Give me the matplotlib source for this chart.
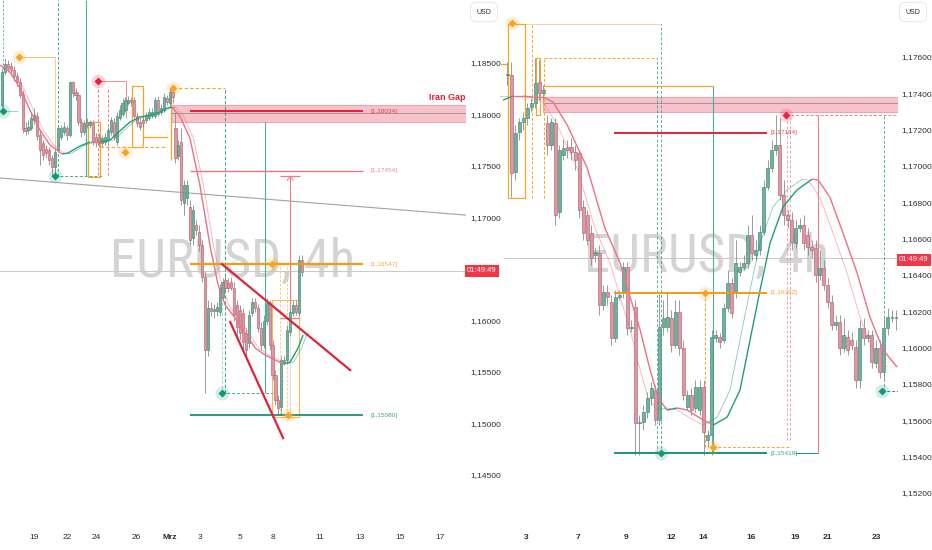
import matplotlib.pyplot as plt
from matplotlib.patches import Rectangle
from matplotlib.collections import LineCollection

plt.rcParams['font.family'] = ['Liberation Sans', 'DejaVu Sans']

# ---------------- left chart: EURUSD 4h (Feb -> early March) ----------------
left_open = [1.1809, 1.1841, 1.1849, 1.1847, 1.1843, 1.1837, 1.1832, 1.1820, 1.1787, 1.1785,
             1.1787, 1.1795, 1.1799, 1.1780, 1.1772, 1.1767, 1.1766, 1.1758, 1.1749, 1.1766,
             1.1778, 1.1783, 1.1787, 1.1780, 1.1832, 1.1822, 1.1819, 1.1793, 1.1783, 1.1793,
             1.1790, 1.1792, 1.1778, 1.1778, 1.1772, 1.1773, 1.1775, 1.1783, 1.1793, 1.1773,
             1.1797, 1.1801, 1.1804, 1.1811, 1.1814, 1.1814, 1.1799, 1.1793, 1.1795, 1.1795,
             1.1797, 1.1799, 1.1799, 1.1814, 1.1802, 1.1804, 1.1816, 1.1811, 1.1822, 1.1787,
             1.1760, 1.1773, 1.1714, 1.1719, 1.1710, 1.1680, 1.1693, 1.1686, 1.1673, 1.1642,
             1.1571, 1.1612, 1.1609, 1.1609, 1.1608, 1.1623, 1.1639, 1.1636, 1.1637, 1.1632,
             1.1615, 1.1610, 1.1607, 1.1588, 1.1578, 1.1607, 1.1618, 1.1612, 1.1593, 1.1576,
             1.1600, 1.1617, 1.1576, 1.1547, 1.1523, 1.1516, 1.1560, 1.1562, 1.1589, 1.1607,
             1.1615, 1.1607, 1.1659]
left_close = [1.1841, 1.1849, 1.1845, 1.1843, 1.1837, 1.1832, 1.1819, 1.1786, 1.1784, 1.1788,
              1.1797, 1.1800, 1.1779, 1.1766, 1.1761, 1.1763, 1.1756, 1.1749, 1.1764, 1.1787,
              1.1787, 1.1788, 1.1780, 1.1832, 1.1821, 1.1819, 1.1793, 1.1783, 1.1792, 1.1790,
              1.1793, 1.1773, 1.1773, 1.1772, 1.1777, 1.1778, 1.1785, 1.1795, 1.1778, 1.1799,
              1.1804, 1.1811, 1.1814, 1.1814, 1.1812, 1.1799, 1.1792, 1.1788, 1.1792, 1.1799,
              1.1802, 1.1802, 1.1814, 1.1801, 1.1806, 1.1817, 1.1812, 1.1822, 1.1817, 1.1758,
              1.1770, 1.1717, 1.1732, 1.1732, 1.1678, 1.1707, 1.1688, 1.1673, 1.1642, 1.1571,
              1.1612, 1.1609, 1.1611, 1.1613, 1.1632, 1.1637, 1.1632, 1.1632, 1.1632, 1.1605,
              1.1594, 1.1588, 1.1579, 1.1571, 1.1605, 1.1618, 1.1612, 1.1593, 1.1576, 1.1600,
              1.1617, 1.1576, 1.1547, 1.1523, 1.1515, 1.1562, 1.1562, 1.1591, 1.1608, 1.1615,
              1.1608, 1.1659, 1.1647]
left_high = [1.1845, 1.1855, 1.1853, 1.1851, 1.1847, 1.1841, 1.1835, 1.1824, 1.1793, 1.1795,
             1.1802, 1.1806, 1.1802, 1.1785, 1.1775, 1.1770, 1.1768, 1.1761, 1.1767, 1.1790,
             1.1790, 1.1793, 1.1790, 1.1833, 1.1833, 1.1826, 1.1822, 1.1797, 1.1795, 1.1797,
             1.1795, 1.1795, 1.1782, 1.1782, 1.1780, 1.1782, 1.1788, 1.1798, 1.1797, 1.1802,
             1.1809, 1.1816, 1.1817, 1.1818, 1.1817, 1.1817, 1.1802, 1.1797, 1.1798, 1.1802,
             1.1806, 1.1806, 1.1817, 1.1818, 1.1810, 1.1821, 1.1819, 1.1826, 1.1826, 1.1802,
             1.1775, 1.1787, 1.1736, 1.1736, 1.1717, 1.1712, 1.1698, 1.1693, 1.1678, 1.1647,
             1.1620, 1.1618, 1.1616, 1.1618, 1.1635, 1.1641, 1.1643, 1.1641, 1.1642, 1.1637,
             1.1620, 1.1615, 1.1612, 1.1593, 1.1610, 1.1622, 1.1622, 1.1616, 1.1599, 1.1605,
             1.1622, 1.1620, 1.1581, 1.1552, 1.1528, 1.1566, 1.1566, 1.1596, 1.1612, 1.1620,
             1.1620, 1.1664, 1.1664]
left_low = [1.1806, 1.1838, 1.1841, 1.1838, 1.1833, 1.1828, 1.1816, 1.1782, 1.1780, 1.1781,
            1.1785, 1.1791, 1.1775, 1.1751, 1.1756, 1.1758, 1.1751, 1.1740, 1.1740, 1.1764,
            1.1775, 1.1780, 1.1775, 1.1778, 1.1817, 1.1814, 1.1790, 1.1778, 1.1780, 1.1787,
            1.1787, 1.1770, 1.1768, 1.1768, 1.1768, 1.1770, 1.1772, 1.1780, 1.1775, 1.1770,
            1.1795, 1.1799, 1.1802, 1.1809, 1.1808, 1.1797, 1.1788, 1.1785, 1.1788, 1.1792,
            1.1795, 1.1797, 1.1797, 1.1799, 1.1800, 1.1802, 1.1809, 1.1808, 1.1811, 1.1753,
            1.1756, 1.1712, 1.1702, 1.1712, 1.1673, 1.1673, 1.1683, 1.1668, 1.1637, 1.1530,
            1.1566, 1.1604, 1.1602, 1.1604, 1.1604, 1.1620, 1.1628, 1.1628, 1.1630, 1.1600,
            1.1586, 1.1581, 1.1571, 1.1566, 1.1573, 1.1604, 1.1608, 1.1589, 1.1571, 1.1573,
            1.1596, 1.1571, 1.1542, 1.1518, 1.1508, 1.1508, 1.1557, 1.1559, 1.1585, 1.1604,
            1.1605, 1.1604, 1.1643]

left_ma_x = [-0.7, 2.7, 6.1, 9.5, 12.9, 16.3, 18.7, 20.4, 22.4, 26.5, 29.9, 33.3, 36.7, 40.1,
             43.5, 46.9, 50.3, 53.7, 56.1, 57.8, 60.5, 63.9, 67.3, 70.7, 73.5, 75.9, 79.3, 82.7,
             86.1, 89.5, 92.9, 95.6, 98.0, 100.7, 102.4]
left_ma_y = [1.18481, 1.18413, 1.18257, 1.18044, 1.17850, 1.17704, 1.17655, 1.17617, 1.17626,
             1.17694, 1.17733, 1.17733, 1.17752, 1.17840, 1.17927, 1.17976, 1.17995, 1.18024,
             1.18063, 1.18073, 1.17985, 1.17772, 1.17316, 1.16733, 1.16345, 1.16150, 1.16024,
             1.15879, 1.15733, 1.15665, 1.15617, 1.15578, 1.15597, 1.15733, 1.15859]

left_levels = [1.18034, 1.17454, 1.16547, 1.15080]
left_level_colors = ['#e8213b', '#f27485', '#f39c12', '#13967a']
left_level_widths = [1.5, 1.0, 1.6, 1.3]
left_gap = [1.17927, 1.18092]
left_last = 1.16481

left_date_pos = [10.9, 22.1, 32.0, 45.6, 57.1, 67.3, 81.0, 92.2, 108.2, 121.8, 135.4, 149.0]
left_date_labels = ['19', '22', '24', '26', 'Mrz', '3', '5', '8', '11', '13', '15', '17']
# 1,16500 sits under the countdown tag, so it is not listed
left_price_ticks = [1.145, 1.150, 1.155, 1.160, 1.170, 1.175, 1.180, 1.185]

# ---------------- right chart: EURUSD (March) ----------------
right_open = [1.17501, 1.17501, 1.16967, 1.17187, 1.17242, 1.17264, 1.17325, 1.17347, 1.17462, 1.17402,
              1.17237, 1.17116, 1.17237, 1.16747, 1.17061, 1.17105, 1.17105, 1.17077, 1.17072, 1.16774,
              1.16730, 1.16631, 1.16510, 1.16521, 1.16235, 1.16306, 1.16251, 1.16053, 1.16279, 1.16301,
              1.16444, 1.16108, 1.16224, 1.15585, 1.15591, 1.15646, 1.15723, 1.15767, 1.15602, 1.16114,
              1.16114, 1.16163, 1.16015, 1.16196, 1.15998, 1.15673, 1.15739, 1.15668, 1.15657, 1.15783,
              1.15492, 1.15519, 1.16053, 1.16059, 1.16042, 1.16218, 1.16356, 1.16301, 1.16416, 1.16444,
              1.16466, 1.16620, 1.16510, 1.16538, 1.16637, 1.16884, 1.16989, 1.17088, 1.17116, 1.16840,
              1.16730, 1.16703, 1.16576, 1.16659, 1.16675, 1.16620, 1.16554, 1.16549, 1.16400, 1.16438,
              1.16345, 1.16251, 1.16125, 1.16141, 1.15998, 1.16059, 1.16042, 1.16004, 1.15822, 1.16108,
              1.16053, 1.16070, 1.15915, 1.15998, 1.15866, 1.16108, 1.16163, 1.16163]
right_close = [1.17506, 1.16961, 1.17182, 1.17242, 1.17264, 1.17319, 1.17347, 1.17457, 1.17402, 1.17418,
               1.17116, 1.17242, 1.16730, 1.17088, 1.17099, 1.17088, 1.17077, 1.17033, 1.16758, 1.16631,
               1.16593, 1.16494, 1.16527, 1.16235, 1.16306, 1.16279, 1.16053, 1.16279, 1.16290, 1.16444,
               1.16108, 1.16114, 1.15585, 1.15591, 1.15646, 1.15723, 1.15778, 1.15602, 1.16114, 1.16163,
               1.16169, 1.16015, 1.16196, 1.15998, 1.15739, 1.15739, 1.15657, 1.15783, 1.15783, 1.15536,
               1.15519, 1.16059, 1.16070, 1.16031, 1.16218, 1.16356, 1.16191, 1.16466, 1.16444, 1.16466,
               1.16620, 1.16521, 1.16538, 1.16637, 1.16884, 1.16989, 1.17088, 1.17116, 1.16840, 1.16730,
               1.16703, 1.16582, 1.16659, 1.16675, 1.16576, 1.16554, 1.16538, 1.16400, 1.16438, 1.16345,
               1.16251, 1.16125, 1.16141, 1.15998, 1.16070, 1.15987, 1.16015, 1.15822, 1.16108, 1.16053,
               1.16070, 1.15921, 1.15998, 1.15866, 1.16108, 1.16169, 1.16169, 1.16163]
right_high = [1.17572, 1.17572, 1.17226, 1.17264, 1.17297, 1.17347, 1.17374, 1.17594, 1.17583, 1.17446,
              1.17281, 1.17264, 1.17264, 1.17116, 1.17143, 1.17143, 1.17154, 1.17116, 1.17088, 1.16813,
              1.16758, 1.16675, 1.16549, 1.16565, 1.16345, 1.16345, 1.16290, 1.16317, 1.16317, 1.16471,
              1.16471, 1.16152, 1.16262, 1.15629, 1.15684, 1.15756, 1.15811, 1.15794, 1.16301, 1.16262,
              1.16301, 1.16207, 1.16262, 1.16262, 1.16042, 1.15767, 1.15778, 1.15822, 1.15822, 1.15822,
              1.15547, 1.16097, 1.16097, 1.16081, 1.16246, 1.16427, 1.16383, 1.16593, 1.16471, 1.16510,
              1.16675, 1.16730, 1.16593, 1.16675, 1.16923, 1.17033, 1.17143, 1.17281, 1.17264, 1.16923,
              1.16758, 1.16747, 1.16703, 1.16714, 1.16730, 1.16659, 1.16593, 1.16593, 1.16538, 1.16483,
              1.16383, 1.16290, 1.16180, 1.16180, 1.16163, 1.16097, 1.16086, 1.16042, 1.16152, 1.16163,
              1.16097, 1.16097, 1.16042, 1.16042, 1.16163, 1.16218, 1.16207, 1.16207]
right_low = [1.17446, 1.16829, 1.16923, 1.17143, 1.17198, 1.17226, 1.17297, 1.17319, 1.17363, 1.17363,
             1.17061, 1.17088, 1.16675, 1.16714, 1.17033, 1.17044, 1.17033, 1.16978, 1.16714, 1.16593,
             1.16565, 1.16455, 1.16471, 1.16180, 1.16207, 1.16235, 1.16015, 1.16031, 1.16262, 1.16273,
             1.16070, 1.16086, 1.15409, 1.15409, 1.15547, 1.15613, 1.15684, 1.15574, 1.15574, 1.16070,
             1.16086, 1.15976, 1.15998, 1.15960, 1.15712, 1.15657, 1.15629, 1.15646, 1.15629, 1.15409,
             1.15453, 1.15409, 1.16031, 1.15998, 1.16026, 1.16196, 1.16163, 1.16273, 1.16394, 1.16427,
             1.16438, 1.16483, 1.16483, 1.16510, 1.16620, 1.16868, 1.16967, 1.17061, 1.16813, 1.16675,
             1.16659, 1.16538, 1.16549, 1.16637, 1.16538, 1.16510, 1.16494, 1.16361, 1.16372, 1.16317,
             1.16218, 1.16097, 1.16097, 1.15960, 1.15976, 1.15960, 1.15987, 1.15778, 1.15778, 1.16015,
             1.16031, 1.15888, 1.15888, 1.15833, 1.15822, 1.16070, 1.16141, 1.16097]

right_ma_x = [-1.0, 1.5, 4.0, 6.5, 9.0, 11.5, 15.0, 20.0, 24.4, 28.2, 30.7, 33.2, 35.7, 37.7, 39.9,
              42.4, 44.9, 48.1, 51.4, 54.9, 58.1, 60.6, 63.1, 65.6, 68.8, 72.3, 76.1, 77.6, 80.5,
              83.8, 87.3, 90.5, 93.8, 97.3]
right_ma_y = [1.17363, 1.17385, 1.17385, 1.17380, 1.17380, 1.17352, 1.17226, 1.16989, 1.16659,
              1.16466, 1.16279, 1.16097, 1.15877, 1.15723, 1.15657, 1.15668, 1.15657, 1.15613,
              1.15574, 1.15618, 1.15767, 1.16042, 1.16317, 1.16576, 1.16774, 1.16868, 1.16928,
              1.16923, 1.16829, 1.16631, 1.16411, 1.16169, 1.15987, 1.15893]

right_levels = [1.17184, 1.16302, 1.15419]
right_level_colors = ['#e8213b', '#f39c12', '#13967a']
right_gap = [1.17297, 1.17380]
right_last = 1.16494

right_date_pos = [4.7, 17.7, 29.7, 40.9, 48.9, 60.8, 71.8, 79.8, 92.0]
right_date_labels = ['3', '7', '9', '12', '14', '16', '19', '21', '23']
right_price_ticks = [1.152, 1.154, 1.156, 1.158, 1.160, 1.162, 1.164, 1.166, 1.168, 1.170,
                     1.172, 1.174, 1.176]

# colours
UP, UP_EDGE = '#72b09d', '#3b8b74'
DN, DN_EDGE = '#da9aa3', '#b95f6c'
WICK = '#8a8a8a'
MA_UP, MA_DN = '#1f9e7c', '#ee6f86'
ORANGE, RED, TEAL, PINK = '#f5a623', '#e8213b', '#13967a', '#f07c8c'
TEXT = '#2a2e39'
WATERMARK = ['Roboto Condensed', 'Liberation Sans Narrow', 'DejaVu Sans']


def price_fmt(v):
    return f'{v:.5f}'.replace('.', ',')


def draw_candles(ax, o, c, h, l, w):
    for i in range(len(o)):
        up = c[i] >= o[i]
        ax.vlines(i, l[i], h[i], color=WICK, lw=0.6, zorder=3)
        body = max(abs(c[i] - o[i]), 0.00004)
        ax.add_patch(Rectangle((i - w / 2, min(o[i], c[i])), w, body,
                               fc=UP if up else DN, ec=UP_EDGE if up else DN_EDGE,
                               lw=0.45, zorder=4))


def draw_ma(ax, xs, ys, shift):
    # solid line plus a thinner companion, coloured by slope
    for dx, lw, alpha in [(0, 1.0, 1.0), (shift, 0.6, 0.55)]:
        segs = [[(xs[k] + dx, ys[k]), (xs[k + 1] + dx, ys[k + 1])] for k in range(len(xs) - 1)]
        cols = [MA_UP if ys[k + 1] > ys[k] else MA_DN for k in range(len(xs) - 1)]
        ax.add_collection(LineCollection(segs, colors=cols, linewidths=lw, alpha=alpha, zorder=5))


def diamond(ax, x, y, color):
    ax.plot(x, y, 'o', ms=10, color=color, alpha=0.18, mec='none', zorder=7)
    ax.plot(x, y, 'D', ms=3.6, color=color, mec='none', zorder=8)


def level(ax, x0, x1, y, color, lw, lx):
    ax.hlines(y, x0, x1, color=color, lw=lw, zorder=6)
    ax.text(lx, y, '[' + price_fmt(y) + ']', color=color, fontsize=4.6,
            va='center', ha='left', zorder=6, alpha=0.85)


def style(ax, xlim, ylim, yticks, ypad):
    ax.set_xlim(xlim)
    ax.set_ylim(ylim)
    for s in ax.spines.values():
        s.set_visible(False)
    ax.yaxis.tick_right()
    ax.set_yticks(yticks)
    ax.set_yticklabels([price_fmt(v) for v in yticks])
    ax.tick_params(axis='y', length=0, pad=ypad, labelsize=6, labelcolor=TEXT)
    ax.tick_params(axis='x', length=0, pad=6.5, labelsize=6, labelcolor=TEXT)


dash = (0, (3, 2))
fig = plt.figure(figsize=(9.32, 5.5), dpi=100)

# ======================= left chart =======================
axl = fig.add_axes([0, 25 / 550, 466 / 932, 525 / 550])
L_X = (-0.68, 157.8)
style(axl, L_X, (1.14015, 1.19112), left_price_ticks, 2.9)
axl.set_xticks(left_date_pos)
axl.set_xticklabels(left_date_labels)
axl.get_xticklabels()[4].set_fontweight('bold')

axl.text(0.5, 0.5, 'EURUSD, 4h', transform=axl.transAxes, ha='center', va='center',
         fontsize=38, color='#d4d4d4', zorder=1, family=WATERMARK)

# gap zone
axl.add_patch(Rectangle((57.5, left_gap[0]), L_X[1] - 57.5 + 1, left_gap[1] - left_gap[0],
                        fc='#f7b3be', ec='#ef8494', lw=0.6, alpha=0.8, zorder=2))
axl.hlines(1.18015, 57.5, L_X[1] + 1, color='#8f8f8f', lw=0.6, zorder=2)
axl.text(157.5, 1.1817, 'Iran Gap', color=RED, fontsize=6.5, fontweight='bold',
         ha='right', va='center', zorder=6)

# trend line and last price
axl.plot([L_X[0], L_X[1]], [1.17384, 1.17024], color='#a2a2a2', lw=0.8, zorder=2)
axl.axhline(left_last, color='#cacaca', lw=0.8, zorder=2)

# swing markers top-left
axl.vlines(0.3, 1.18034, 1.1911, color=TEAL, lw=0.6, linestyles=dash, alpha=0.7, zorder=2)
axl.hlines(1.18034, -0.7, 5.5, color='#9fd8c8', lw=0.8, zorder=2)
diamond(axl, 0.3, 1.18034, TEAL)
axl.hlines(1.18558, 5.8, 18.0, color='#f8c471', lw=0.7, zorder=2)
axl.vlines(18.0, 1.1742, 1.18558, color='#f8c471', lw=0.6, zorder=2)
diamond(axl, 5.8, 1.18558, ORANGE)
axl.vlines(19.0, 1.17403, 1.1911, color=TEAL, lw=0.7, linestyles=dash, alpha=0.8, zorder=2)
axl.vlines(28.6, 1.17403, 1.1911, color='#45b39d', lw=0.8, zorder=2)
axl.hlines(1.17403, 18.0, 34.4, color=TEAL, lw=0.7, linestyles=dash, alpha=0.8, zorder=2)
diamond(axl, 18.0, 1.17403, TEAL)
axl.hlines(1.18325, 32.7, 42.2, color=PINK, lw=0.6, zorder=2)
axl.vlines(42.2, 1.1797, 1.18325, color=PINK, lw=0.6, zorder=2)
axl.vlines([32.7, 36.1], 1.17413, 1.18267, color=PINK, lw=0.7, linestyles=dash, zorder=2)
diamond(axl, 32.7, 1.18325, RED)
axl.add_patch(Rectangle((29.3, 1.17393), 4.0, 1.17927 - 1.17393, fill=False, ec=ORANGE, lw=0.9, zorder=3))
axl.add_patch(Rectangle((44.2, 1.17684), 3.8, 1.18277 - 1.17684, fill=False, ec=ORANGE, lw=0.9, zorder=3))
axl.hlines(1.17782, 48.0, 56.5, color=ORANGE, lw=0.9, zorder=3)
axl.hlines(1.17684, 33.3, 56.1, color=ORANGE, lw=0.8, linestyles=dash, zorder=3)
diamond(axl, 41.8, 1.17636, ORANGE)

# peak marker and range box
axl.vlines(57.6, 1.1756, 1.18257, color=ORANGE, lw=0.9, zorder=3)
axl.hlines(1.18257, 58.0, 75.9, color=ORANGE, lw=0.8, linestyles=dash, zorder=3)
axl.vlines(75.9, 1.1530, 1.18257, color=TEAL, lw=0.8, linestyles=dash, alpha=0.8, zorder=3)
diamond(axl, 58.0, 1.18257, ORANGE)
axl.vlines(89.5, 1.1530, 1.1793, color='#45b39d', lw=0.8, zorder=3)
axl.hlines(1.1530, 74.8, 92.2, color=TEAL, lw=0.7, linestyles=dash, alpha=0.8, zorder=3)
axl.vlines(74.8, 1.1530, 1.1620, color='#9fd8c8', lw=0.7, linestyles=dash, zorder=3)
diamond(axl, 74.8, 1.1530, TEAL)

# projection arrow
axl.vlines(98.0, 1.1600, 1.17403, color=PINK, lw=0.8, zorder=3)
axl.vlines(98.0, 1.1508, 1.1600, color=PINK, lw=0.6, linestyles=(0, (1, 1.5)), zorder=3)
axl.hlines([1.17403, 1.16024], 94.6, 101.4, color=PINK, lw=0.9, zorder=3)
axl.plot([97.0, 98.0, 99.0], [1.1736, 1.17403, 1.1736], color=PINK, lw=0.7, zorder=3)

# bottom box
axl.add_patch(Rectangle((91.8, 1.1506), 9.2, 1.1620 - 1.1506, fill=False, ec=ORANGE, lw=0.8, alpha=0.8, zorder=3))
axl.vlines([94.6, 96.9], 1.1508, 1.16547, color='#f8c471', lw=0.6, linestyles=dash, zorder=3)

# horizontal levels
for y, col, lw in zip(left_levels, left_level_colors, left_level_widths):
    level(axl, 63.9, 122.8, y, col, lw, 125.2)
diamond(axl, 91.8, 1.16547, ORANGE)
diamond(axl, 97.3, 1.15080, ORANGE)

# wedge
axl.plot([74.8, 118.4], [1.16548, 1.15519], color='#e0233c', lw=1.6, zorder=6)
axl.plot([77.6, 95.6], [1.15985, 1.14859], color='#e0233c', lw=1.6, zorder=6)

draw_candles(axl, left_open, left_close, left_high, left_low, 0.72)
draw_ma(axl, left_ma_x, left_ma_y, 1.2)

# ======================= right chart =======================
axr = fig.add_axes([500 / 932, 25 / 550, 398 / 932, 525 / 550])
axr.set_facecolor('none')
R_X = (-1.75, 97.5)
style(axr, R_X, (1.15024, 1.17914), right_price_ticks, 2.2)
axr.set_xticks(right_date_pos)
axr.set_xticklabels(right_date_labels, fontweight='bold')

axr.text(0.52, 0.51, 'EURUSD, 4h', transform=axr.transAxes, ha='center', va='center',
         fontsize=38, color='#d4d4d4', zorder=1, family=WATERMARK)

axr.add_patch(Rectangle((9.0, right_gap[0]), R_X[1] - 9.0 + 1, right_gap[1] - right_gap[0],
                        fc='#f7b3be', ec='#ef8494', lw=0.6, alpha=0.8, zorder=2))
axr.hlines(1.17347, 9.0, R_X[1] + 1, color='#8f8f8f', lw=0.6, zorder=2)
axr.axhline(right_last, xmin=0.01, color='#cacaca', lw=0.8, zorder=2)

# opening range boxes
axr.add_patch(Rectangle((0.25, 1.16824), 4.25, 1.17782 - 1.16824, fill=False, ec=ORANGE, lw=0.9, zorder=3))
axr.hlines(1.17782, 1.25, 38.4, color='#f8d49a', lw=0.7, zorder=2)
axr.vlines(6.2, 1.16824, 1.17782, color=ORANGE, lw=0.7, linestyles=dash, zorder=3)
axr.hlines(1.17560, -1.75, 0.25, color=ORANGE, lw=0.9, zorder=3)
axr.add_patch(Rectangle((7.2, 1.17281), 1.0, 1.17594 - 1.17281, fill=False, ec=ORANGE, lw=0.8, zorder=3))
axr.hlines(1.17594, 9.2, 37.4, color=ORANGE, lw=0.7, linestyles=dash, zorder=3)
axr.vlines(9.2, 1.16824, 1.17594, color=ORANGE, lw=0.7, linestyles=dash, zorder=3)
axr.vlines([37.4, 38.4], 1.15419, [1.17594, 1.17782], color=TEAL, lw=0.7, linestyles=dash, alpha=0.7, zorder=3)
axr.hlines(1.17440, 9.0, 51.4, color=ORANGE, lw=0.9, zorder=3)
axr.vlines(51.4, 1.15419, 1.17440, color='#45b39d', lw=0.8, zorder=3)
diamond(axr, 1.25, 1.17787, ORANGE)

# high marker
axr.hlines(1.17281, 69.6, R_X[1], color=PINK, lw=0.7, linestyles=dash, zorder=3)
axr.vlines(77.6, 1.15419, 1.17281, color=PINK, lw=0.8, zorder=3)
axr.vlines([69.9, 70.6], 1.15492, 1.17281, color=PINK, lw=0.7, linestyles=dash, alpha=0.7, zorder=3)
diamond(axr, 69.6, 1.17281, RED)

# mid / low markers
axr.vlines(49.4, 1.15453, 1.16302, color=ORANGE, lw=0.7, linestyles=dash, zorder=3)
axr.hlines(1.15453, 51.4, 70.9, color=ORANGE, lw=0.7, linestyles=dash, zorder=3)
axr.hlines(1.15419, 71.8, 77.6, color=TEAL, lw=0.7, zorder=3)
axr.hlines(1.15761, 93.5, R_X[1], color=TEAL, lw=0.7, linestyles=dash, zorder=3)
axr.vlines(94.0, 1.15761, 1.17281, color=TEAL, lw=0.7, linestyles=dash, alpha=0.7, zorder=3)

for y, col in zip(right_levels, right_level_colors):
    level(axr, 26.7, 64.8, y, col, 1.4, 65.6)
diamond(axr, 49.4, 1.16302, ORANGE)
diamond(axr, 51.4, 1.15453, ORANGE)
diamond(axr, 38.4, 1.15419, TEAL)
diamond(axr, 93.5, 1.15761, TEAL)

draw_candles(axr, right_open, right_close, right_high, right_low, 0.74)
draw_ma(axr, right_ma_x, right_ma_y, -2.5)

# ---------------- price-scale tags ----------------
tag = dict(boxstyle='square,pad=0.3', fc='#f23645', ec='none')
fig.text(482 / 932, 1 - 271 / 550, '01:49:49', color='white', fontsize=5.5,
         ha='center', va='center', bbox=tag)
fig.text(914 / 932, 1 - 260 / 550, '01:49:49', color='white', fontsize=5.5,
         ha='center', va='center', bbox=tag)
usd = dict(boxstyle='round,pad=0.9', fc='white', ec='#e0e3eb', lw=0.6)
fig.text(484 / 932, 1 - 12 / 550, 'USD', color=TEXT, fontsize=5, ha='center', va='center', bbox=usd)
fig.text(913 / 932, 1 - 12 / 550, 'USD', color=TEXT, fontsize=5, ha='center', va='center', bbox=usd)

fig.savefig('out.png', dpi=100)
